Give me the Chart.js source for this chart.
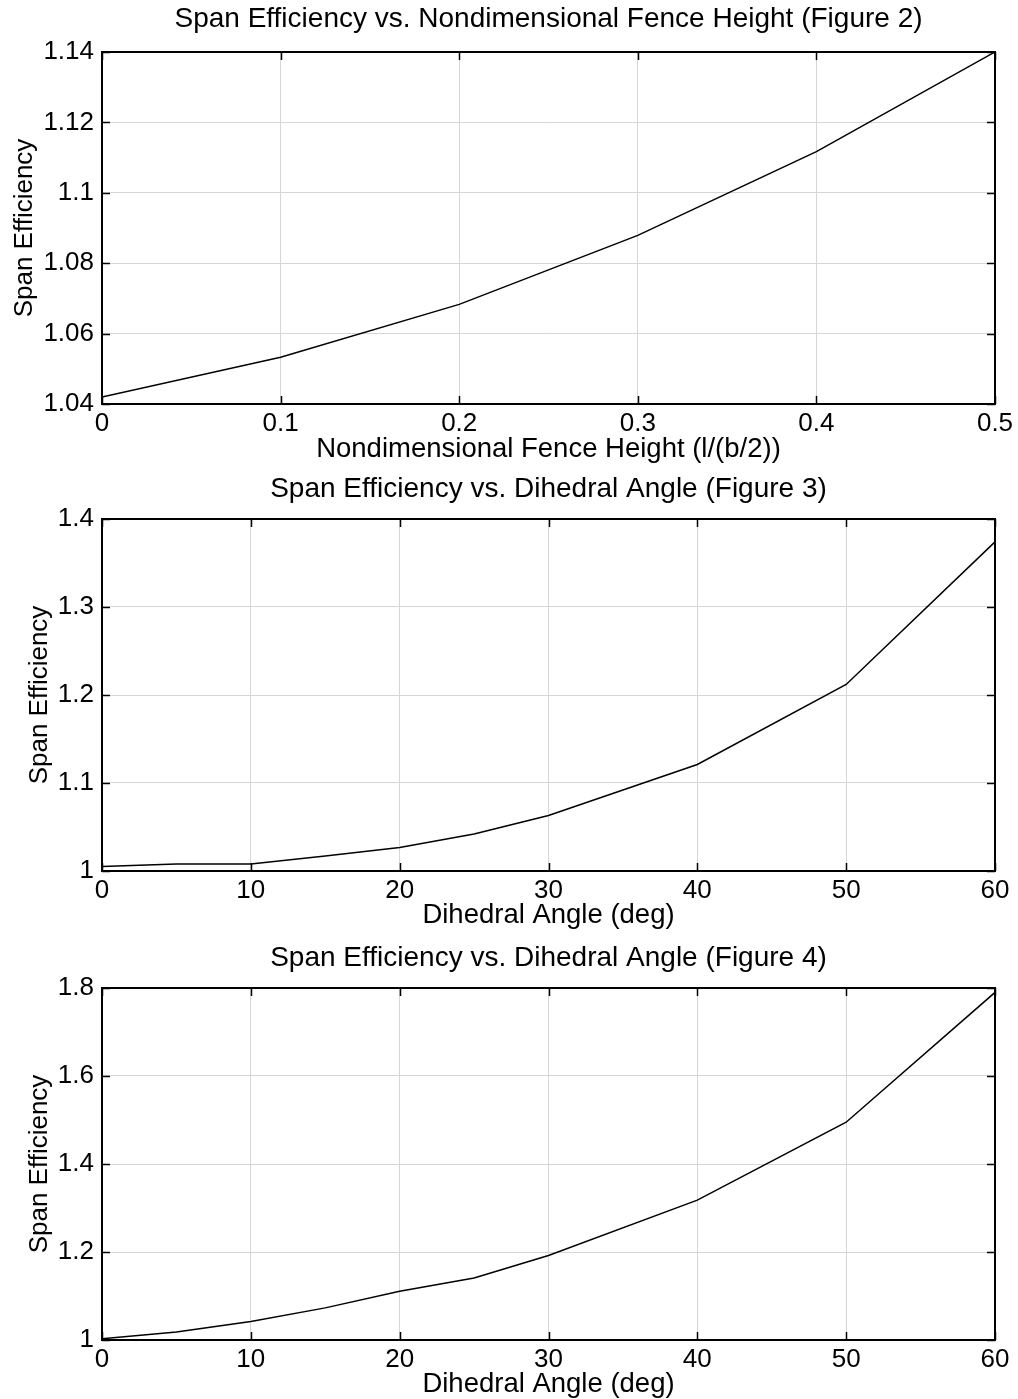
<!DOCTYPE html>
<html>
<head>
<meta charset="utf-8">
<script src="https://cdn.jsdelivr.net/npm/chart.js@4/dist/chart.umd.min.js"></script>
<style>
  html, body { margin: 0; padding: 0; background: #fff; overflow: hidden; }
  body { width: 1018px; height: 1399px; position: relative; }
  canvas { position: absolute; left: 0; }
</style>
</head>
<body>
<canvas id="c1"></canvas>
<canvas id="c2"></canvas>
<canvas id="c3"></canvas>
<script>
// ---- Data ----
const fenceHeight = [0, 0.1, 0.2, 0.3, 0.4, 0.5];
const fenceEfficiency = [1.042, 1.0533, 1.0683, 1.0879, 1.1117, 1.14];

const dihedralAngle = [0, 5, 10, 15, 20, 25, 30, 40, 50, 60];
const efficiencyFig3 = [1.005, 1.008, 1.008, 1.017, 1.0266, 1.042, 1.063, 1.121, 1.212, 1.374];
const efficiencyFig4 = [1.003, 1.018, 1.042, 1.073, 1.111, 1.141, 1.192, 1.318, 1.495, 1.79];

// ---- Tick values / labels ----
const fenceXTicks = [0, 0.1, 0.2, 0.3, 0.4, 0.5];
const fenceXLabels = ['0', '0.1', '0.2', '0.3', '0.4', '0.5'];
const fenceYTicks = [1.04, 1.06, 1.08, 1.1, 1.12, 1.14];
const fenceYLabels = ['1.04', '1.06', '1.08', '1.1', '1.12', '1.14'];

const angleXTicks = [0, 10, 20, 30, 40, 50, 60];
const angleXLabels = ['0', '10', '20', '30', '40', '50', '60'];
const fig3YTicks = [1, 1.1, 1.2, 1.3, 1.4];
const fig3YLabels = ['1', '1.1', '1.2', '1.3', '1.4'];
const fig4YTicks = [1, 1.2, 1.4, 1.6, 1.8];
const fig4YLabels = ['1', '1.2', '1.4', '1.6', '1.8'];

const titles = [
  'Span Efficiency vs. Nondimensional Fence Height (Figure 2)',
  'Span Efficiency vs. Dihedral Angle (Figure 3)',
  'Span Efficiency vs. Dihedral Angle (Figure 4)'
];
const xTitles = ['Nondimensional Fence Height (l/(b/2))', 'Dihedral Angle (deg)', 'Dihedral Angle (deg)'];
const yTitle = 'Span Efficiency';

// ---- Styling / layout ----
const FONT = "'Liberation Sans', Arial, Helvetica, sans-serif";
const FS = 26;
const TFS = 28;
const XFS = 27.5;
const LH = FS * 1.2;
const TLH = TFS * 1.2;
const XLH = XFS * 1.2;
const W = 1018;
const AREA_LEFT = 102;
const AREA_RIGHT = 995;
const XSCALE_H = 61;

const boxPlugin = {
  id: 'matlabBox',
  afterDatasetsDraw(chart) {
    const { ctx, chartArea: a, scales: { x, y } } = chart;
    ctx.save();
    ctx.strokeStyle = '#000';
    ctx.lineWidth = 1.5;
    ctx.beginPath();
    x.ticks.forEach(t => {
      const px = Math.round(x.getPixelForValue(t.value)) + 0.5;
      ctx.moveTo(px, a.bottom); ctx.lineTo(px, a.bottom - 8);
      ctx.moveTo(px, a.top); ctx.lineTo(px, a.top + 8);
    });
    y.ticks.forEach(t => {
      const py = Math.round(y.getPixelForValue(t.value)) + 0.5;
      ctx.moveTo(a.left, py); ctx.lineTo(a.left + 8, py);
      ctx.moveTo(a.right, py); ctx.lineTo(a.right - 8, py);
    });
    ctx.stroke();
    ctx.lineWidth = 2;
    ctx.strokeRect(a.left, a.top, a.right - a.left, a.bottom - a.top);
    ctx.restore();
  }
};

function makeChart(id, cfg) {
  const canvas = document.getElementById(id);
  const H = cfg.areaBottom - cfg.top + XSCALE_H;
  canvas.width = W; canvas.height = H;
  canvas.style.width = W + 'px'; canvas.style.height = H + 'px';
  canvas.style.top = cfg.top + 'px';
  const tPadTop = cfg.titleCenter - cfg.top - TLH / 2;
  const tPadBottom = (cfg.areaTop - cfg.top) - tPadTop - TLH;
  const xTitleBottom = XSCALE_H - cfg.xTitleOffset - XLH / 2;
  return new Chart(canvas, {
    type: 'line',
    data: {
      datasets: [{
        data: cfg.xs.map((v, i) => ({ x: v, y: cfg.ys[i] })),
        borderColor: '#000',
        borderWidth: 1.5,
        pointRadius: 0,
        tension: 0,
        fill: false
      }]
    },
    options: {
      responsive: false,
      devicePixelRatio: 1,
      animation: false,
      layout: { padding: { left: 0, right: W - AREA_RIGHT, top: 0, bottom: 0 } },
      plugins: {
        legend: { display: false },
        tooltip: { enabled: false },
        title: {
          display: true,
          fullSize: false,
          text: cfg.title,
          color: '#000',
          font: { family: FONT, size: TFS, weight: 'normal', lineHeight: 1.2 },
          padding: { top: tPadTop, bottom: tPadBottom }
        }
      },
      scales: {
        x: {
          type: 'linear',
          min: cfg.xTicks[0],
          max: cfg.xTicks[cfg.xTicks.length - 1],
          afterBuildTicks: s => { s.ticks = cfg.xTicks.map(v => ({ value: v })); },
          afterFit: s => { s.height = XSCALE_H; },
          ticks: {
            autoSkip: false,
            maxRotation: 0,
            color: '#000',
            padding: 4,
            font: { family: FONT, size: FS, lineHeight: 1.2 },
            callback: (v, i) => cfg.xLabels[i]
          },
          grid: { color: '#d6d6d6', lineWidth: 1, drawTicks: false },
          border: { display: false },
          title: {
            display: true,
            text: cfg.xTitle,
            color: '#000',
            font: { family: FONT, size: XFS, lineHeight: 1.2 },
            padding: { top: 0, bottom: xTitleBottom }
          }
        },
        y: {
          type: 'linear',
          min: cfg.yTicks[0],
          max: cfg.yTicks[cfg.yTicks.length - 1],
          afterBuildTicks: s => { s.ticks = cfg.yTicks.map(v => ({ value: v })); },
          afterFit: s => { s.width = AREA_LEFT; },
          ticks: {
            autoSkip: false,
            color: '#000',
            padding: 8,
            font: { family: FONT, size: FS, lineHeight: 1.2 },
            callback: (v, i) => cfg.yLabels[i]
          },
          grid: { color: '#d6d6d6', lineWidth: 1, drawTicks: false },
          border: { display: false },
          title: {
            display: true,
            text: yTitle,
            color: '#000',
            font: { family: FONT, size: FS, lineHeight: 1.2 },
            padding: { top: cfg.yTitleCenter - LH / 2, bottom: 0 }
          }
        }
      }
    },
    plugins: [boxPlugin]
  });
}

makeChart('c1', {
  top: 0, areaTop: 52, areaBottom: 404, titleCenter: 19, yTitleCenter: 25, xTitleOffset: 45,
  xs: fenceHeight, ys: fenceEfficiency,
  xTicks: fenceXTicks, xLabels: fenceXLabels, yTicks: fenceYTicks, yLabels: fenceYLabels,
  title: titles[0], xTitle: xTitles[0]
});
makeChart('c2', {
  top: 465, areaTop: 519, areaBottom: 871, titleCenter: 489, yTitleCenter: 40, xTitleOffset: 44,
  xs: dihedralAngle, ys: efficiencyFig3,
  xTicks: angleXTicks, xLabels: angleXLabels, yTicks: fig3YTicks, yLabels: fig3YLabels,
  title: titles[1], xTitle: xTitles[1]
});
makeChart('c3', {
  top: 932, areaTop: 988, areaBottom: 1340, titleCenter: 958, yTitleCenter: 40, xTitleOffset: 44,
  xs: dihedralAngle, ys: efficiencyFig4,
  xTicks: angleXTicks, xLabels: angleXLabels, yTicks: fig4YTicks, yLabels: fig4YLabels,
  title: titles[2], xTitle: xTitles[2]
});
</script>
</body>
</html>
